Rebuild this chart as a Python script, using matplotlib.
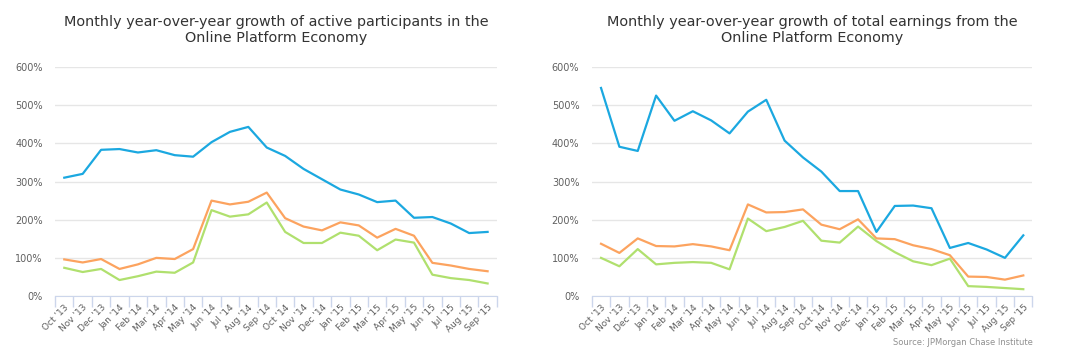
from matplotlib import pyplot as plt
import numpy as np

months = ["Oct '13", "Nov '13", "Dec '13", "Jan '14", "Feb '14", "Mar '14", "Apr '14", "May '14",
          "Jun '14", "Jul '14", "Aug '14", "Sep '14", "Oct '14", "Nov '14", "Dec '14", "Jan '15",
          "Feb '15", "Mar '15", "Apr '15", "May '15", "Jun '15", "Jul '15", "Aug '15", "Sep '15"]

# active participants (%)
part_blue = [310, 320, 383, 385, 376, 382, 369, 365, 403, 430, 443, 389,
             367, 333, 306, 279, 266, 246, 250, 205, 207, 190, 165, 168]
part_orange = [96, 88, 97, 71, 83, 100, 97, 123, 250, 240, 247, 271,
               204, 182, 172, 193, 185, 153, 176, 158, 87, 80, 71, 65]
part_green = [74, 63, 71, 42, 52, 64, 61, 88, 225, 208, 214, 245,
              168, 139, 139, 166, 158, 120, 148, 140, 56, 47, 42, 33]

# total earnings (%)
earn_blue = [545, 391, 380, 525, 459, 484, 460, 426, 483, 514, 407, 363,
             326, 275, 275, 168, 236, 237, 230, 126, 139, 122, 100, 159]
earn_orange = [137, 113, 151, 131, 130, 136, 130, 120, 240, 219, 220, 227,
               187, 175, 201, 151, 149, 133, 123, 107, 51, 50, 43, 54]
earn_green = [100, 78, 123, 83, 87, 89, 87, 70, 203, 170, 181, 197,
              145, 140, 182, 144, 115, 91, 81, 98, 26, 24, 21, 18]

titles = ["Monthly year-over-year growth of active participants in the\nOnline Platform Economy",
          "Monthly year-over-year growth of total earnings from the\nOnline Platform Economy"]
colors = ['#1ba8e0', '#fca35f', '#b0e06e']

fig = plt.figure(figsize=(10.8, 3.58), dpi=100)
axes = [fig.add_axes([0.051, 0.173, 0.409, 0.64]),
        fig.add_axes([0.548, 0.173, 0.408, 0.64])]
data = [(part_blue, part_orange, part_green), (earn_blue, earn_orange, earn_green)]

x = np.arange(len(months))
for ax, series, title in zip(axes, data, titles):
    for s, c in zip(series, colors):
        ax.plot(x, s, color=c, linewidth=1.6)
    ax.set_xlim(-0.5, len(months) - 0.5)
    ax.set_ylim(0, 600)
    ax.set_yticks(range(0, 601, 100))
    ax.set_yticklabels([f'{v}%' for v in range(0, 601, 100)], fontsize=7, color='#606060')
    ax.tick_params(axis='y', length=0, pad=9)
    ax.set_xticks(x)
    ax.set_xticklabels(months, rotation=45, ha='right', rotation_mode='anchor',
                       fontsize=6.5, color='#606060')
    ax.tick_params(axis='x', which='major', length=0, pad=5)
    ax.set_xticks(np.arange(-0.5, len(months)), minor=True)
    ax.tick_params(axis='x', which='minor', length=8, color='#ccd6eb', width=1)
    ax.grid(axis='y', color='#e6e6e6', linewidth=1)
    ax.set_axisbelow(True)
    for sp in ['top', 'right', 'left']:
        ax.spines[sp].set_visible(False)
    ax.spines['bottom'].set_color('#ccd6eb')
    ax.set_title(title, fontsize=10.4, color='#333333', pad=18, linespacing=1.2)

fig.text(0.956, 0.03, 'Source: JPMorgan Chase Institute', ha='right', va='bottom',
         fontsize=6, color='#909090')

plt.savefig('out.png', dpi=100)
